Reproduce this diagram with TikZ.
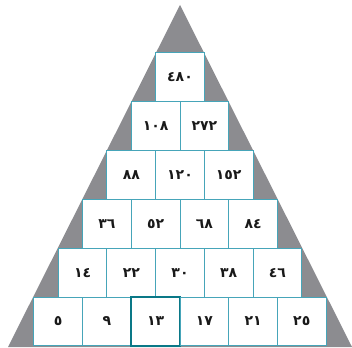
\documentclass[tikz,border=0pt]{standalone}
\usepackage{fontspec}
\newfontfamily\digitfont{DejaVu Sans}
\definecolor{tri}{RGB}{140,140,144}
\definecolor{edge}{RGB}{70,165,185}
\definecolor{dark}{RGB}{10,120,135}
\tikzset{
  cell/.style={draw=edge, line width=1pt, fill=white, minimum width=48.7pt,
    minimum height=48.8pt, inner sep=0pt, outer sep=0pt,
    font=\digitfont\bfseries\fontsize{14}{16}\selectfont, text=black!90},
  mark13/.style={draw=dark, line width=1.8pt}
}
\begin{document}
\begin{tikzpicture}[x=1pt,y=-1pt]
\useasboundingbox (0,0) rectangle (352,347);
\fill[white] (0,0) rectangle (352,347);
\fill[tri] (180,5) -- (352,347) -- (8,347) -- cycle;
% row 0
\node[cell] (r0a) at (180,77.4) {٤٨٠};
% row 1
\node[cell] (r1a) at (155.65,126.2) {١٠٨};
\node[cell] (r1b) at (204.35,126.2) {٢٧٢};
% row 2
\node[cell] (r2a) at (131.3,175.0) {٨٨};
\node[cell] (r2b) at (180,175.0) {١٢٠};
\node[cell] (r2c) at (228.7,175.0) {١٥٢};
% row 3
\node[cell] (r3a) at (106.95,223.8) {٣٦};
\node[cell] (r3b) at (155.65,223.8) {٥٢};
\node[cell] (r3c) at (204.35,223.8) {٦٨};
\node[cell] (r3d) at (253.05,223.8) {٨٤};
% row 4
\node[cell] (r4a) at (82.6,272.6) {١٤};
\node[cell] (r4b) at (131.3,272.6) {٢٢};
\node[cell] (r4c) at (180,272.6) {٣٠};
\node[cell] (r4d) at (228.7,272.6) {٣٨};
\node[cell] (r4e) at (277.4,272.6) {٤٦};
% row 5
\node[cell] (r5a) at (58.25,321.4) {٥};
\node[cell] (r5b) at (106.95,321.4) {٩};
\node[cell,mark13] (r5c) at (155.65,321.4) {١٣};
\node[cell] (r5d) at (204.35,321.4) {١٧};
\node[cell] (r5e) at (253.05,321.4) {٢١};
\node[cell] (r5f) at (301.75,321.4) {٢٥};
\end{tikzpicture}
\end{document}
